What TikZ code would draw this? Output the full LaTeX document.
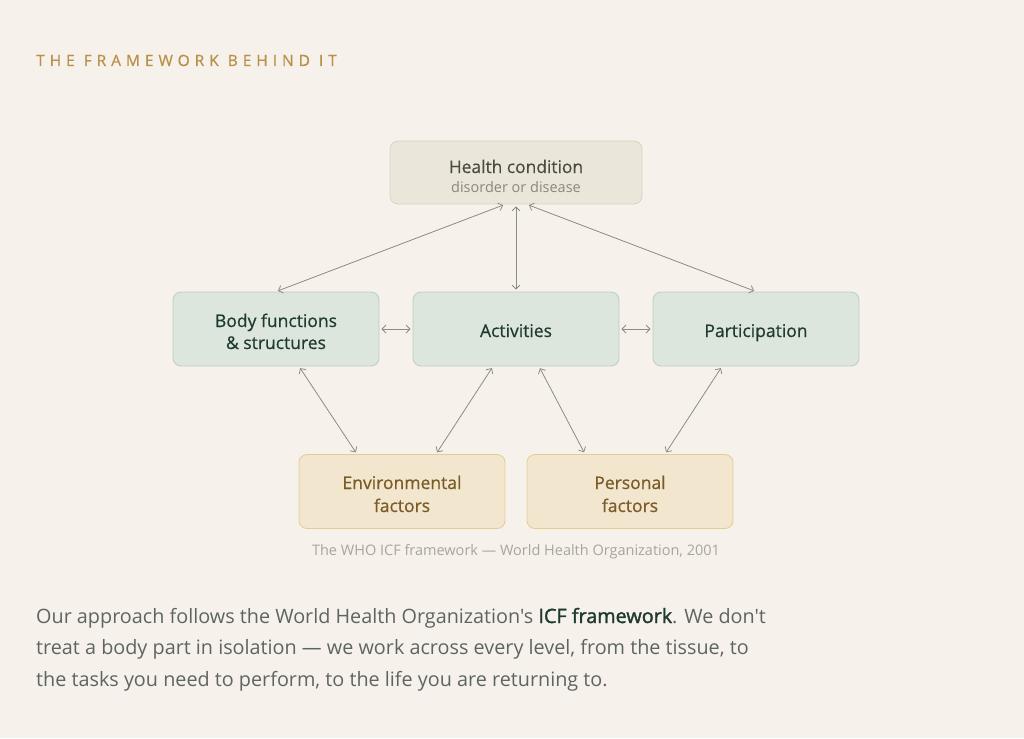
\documentclass[tikz,border=0pt]{standalone}
\usepackage{fontspec}
\setmainfont{Open Sans}[Ligatures=TeXOff]
\usetikzlibrary{arrows.meta,calc}
\definecolor{bg}{HTML}{F6F2EB}
\definecolor{titlec}{HTML}{B8904A}
\definecolor{hcfill}{HTML}{EBE6DA}
\definecolor{hcdraw}{HTML}{D9D3BF}
\definecolor{hctext}{HTML}{4A4A42}
\definecolor{hcsub}{HTML}{8A877C}
\definecolor{gfill}{HTML}{DCE6DC}
\definecolor{gdraw}{HTML}{BACFBA}
\definecolor{gtext}{HTML}{1F3A2E}
\definecolor{yfill}{HTML}{F2E6CF}
\definecolor{ydraw}{HTML}{E4CD95}
\definecolor{ytext}{HTML}{7A5A25}
\definecolor{arrc}{HTML}{8C8C84}
\definecolor{capc}{HTML}{A8A59A}
\definecolor{parc}{HTML}{5E6560}
\tikzset{
  box/.style={rounded corners=8pt, line width=0.8pt, minimum width=206pt, minimum height=74pt, inner sep=0pt},
  gbox/.style={box, fill=gfill, draw=gdraw},
  ybox/.style={box, fill=yfill, draw=ydraw},
  gtxt/.style={anchor=base, inner sep=0pt, text=gtext, font=\fontsize{17.5}{23}\selectfont\addfontfeature{FakeBold=0.6}},
  ytxt/.style={anchor=base, inner sep=0pt, text=ytext, font=\fontsize{17.5}{23}\selectfont\addfontfeature{FakeBold=0.6}},
  link/.style={draw=arrc, line width=0.8pt, {Straight Barb[length=4pt,width=8pt]}-{Straight Barb[length=4pt,width=8pt]}, shorten <=2pt, shorten >=2pt}
}
\begin{document}
\begin{tikzpicture}[x=1pt,y=-1pt]
\fill[bg] (0,0) rectangle (1024,738);
\useasboundingbox (0,0) rectangle (1024,738);
\node[anchor=base west, text=titlec, font=\fontsize{15.5}{16}\selectfont\addfontfeature{LetterSpace=32,FakeBold=0.6}, inner sep=0pt] (title) at (36,66) {THE FRAMEWORK BEHIND IT};
\node[box, minimum width=252pt, minimum height=63pt, fill=hcfill, draw=hcdraw] (hc) at (516,172.5) {};
\node[anchor=base, text=hctext, font=\fontsize{17.4}{18}\selectfont\addfontfeature{FakeBold=0.4}, inner sep=0pt] (hct) at (516,173) {Health condition};
\node[anchor=base, text=hcsub, font=\fontsize{14.5}{15}\selectfont, inner sep=0pt] (hcs) at (516,192) {disorder or disease};
\node[gbox] (body) at (276,329) {};
\node[gtxt] (bodyt1) at (276,327) {Body functions};
\node[gtxt] (bodyt2) at (276,349) {\& structures};
\node[gbox] (act) at (516,329) {};
\node[gtxt] (actt) at (516,337) {Activities};
\node[gbox] (part) at (756,329) {};
\node[gtxt] (partt) at (756,337) {Participation};
\node[ybox] (env) at (402,491.5) {};
\node[ytxt] (envt1) at (402,489) {Environmental};
\node[ytxt] (envt2) at (402,512) {factors};
\node[ybox] (pers) at (630,491.5) {};
\node[ytxt] (perst1) at (630,489) {Personal};
\node[ytxt] (perst2) at (630,512) {factors};
\draw[link] ([xshift=-11pt]hc.south) -- (body.north);
\draw[link] (hc.south) -- (act.north);
\draw[link] ([xshift=11pt]hc.south) -- (part.north);
\draw[link] (body.east) -- (act.west);
\draw[link] (act.east) -- (part.west);
\draw[link] ([xshift=23pt]body.south) -- ([xshift=-45pt]env.north);
\draw[link] ([xshift=-23pt]act.south) -- ([xshift=34pt]env.north);
\draw[link] ([xshift=23pt]act.south) -- ([xshift=-45pt]pers.north);
\draw[link] ([xshift=-34pt]part.south) -- ([xshift=35pt]pers.north);
\node[anchor=base, text=capc, font=\fontsize{14.5}{15}\selectfont, inner sep=0pt] (cap) at (516,555) {The WHO ICF framework — World Health Organization, 2001};
\node[anchor=base west, text=parc, inner sep=0pt, font=\fontsize{19.8}{20}\selectfont] (par1) at (36,623) {Our approach follows the World Health Organization's \textcolor{gtext}{\addfontfeature{FakeBold=1.6}ICF framework}. We don't};
\node[anchor=base west, text=parc, inner sep=0pt, font=\fontsize{19.8}{20}\selectfont] (par2) at (36,654.5) {treat a body part in isolation — we work across every level, from the tissue, to};
\node[anchor=base west, text=parc, inner sep=0pt, font=\fontsize{19.8}{20}\selectfont] (par3) at (36,686) {the tasks you need to perform, to the life you are returning to.};
\end{tikzpicture}
\end{document}
